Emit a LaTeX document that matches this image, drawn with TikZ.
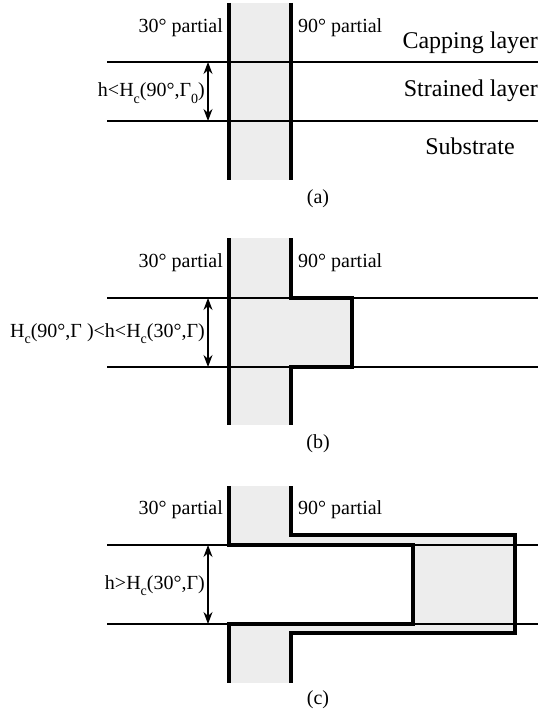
\documentclass[tikz,border=0pt]{standalone}
\usepackage{fontspec}
\setmainfont{Liberation Serif}
\usetikzlibrary{arrows.meta}
\newcommand\lowsub[1]{\raisebox{-0.32em}{\fontsize{14}{14}\selectfont #1}}
\begin{document}
\begin{tikzpicture}[x=1pt,y=-1pt,
  thickline/.style={line width=3.2pt},
  layerline/.style={line width=1.8pt},
  sf/.style={fill=black!7},
  lbl/.style={inner sep=0pt,font=\fontsize{20}{24}\selectfont},
  biglbl/.style={inner sep=0pt,font=\fontsize{24}{28}\selectfont},
  dimarrow/.style={line width=1.1pt,{Stealth[length=12pt,width=9pt]}-{Stealth[length=12pt,width=9pt]}}]
\useasboundingbox (0,0) rectangle (538,714);

% ---------------- panel (a)
\fill[sf] (229,3) rectangle (291,180);
\draw[layerline] (107,62) -- (538,62);
\draw[layerline] (107,121) -- (538,121);
\draw[thickline] (229,3) -- (229,180);
\draw[thickline] (291,3) -- (291,180);
\coordinate (a1) at (208,62);
\coordinate (a2) at (208,121);
\draw[dimarrow] (a1) -- (a2);
\node[lbl,anchor=base east] (a30) at (223,33) {30° partial};
\node[lbl,anchor=base west] (a90) at (298,33) {90° partial};
\node[biglbl,anchor=base east] (cap) at (538,49) {Capping layer};
\node[biglbl,anchor=base east] (str) at (538,97) {Strained layer};
\node[biglbl,anchor=base] (sub) at (470,155) {Substrate};
\node[lbl,anchor=base east] (ha) at (205,97) {h<H\lowsub{c}(90°,Γ\lowsub{0})};
\node[lbl,anchor=base] (capa) at (318,203) {(a)};

% ---------------- panel (b)
\fill[sf] (229,238) rectangle (291,425);
\fill[sf] (229,298) rectangle (352,367);
\draw[layerline] (107,298) -- (538,298);
\draw[layerline] (107,367) -- (538,367);
\draw[thickline] (229,238) -- (229,425);
\draw[thickline] (291,238) -- (291,298) -- (352,298) -- (352,367) -- (291,367) -- (291,425);
\coordinate (b1) at (208,298);
\coordinate (b2) at (208,367);
\draw[dimarrow] (b1) -- (b2);
\node[lbl,anchor=base east] (b30) at (223,267) {30° partial};
\node[lbl,anchor=base west] (b90) at (298,267) {90° partial};
\node[lbl,anchor=base east] (hb) at (205,337) {H\lowsub{c}(90°,Γ )<h<H\lowsub{c}(30°,Γ)};
\node[lbl,anchor=base] (capb) at (318,448) {(b)};

% ---------------- panel (c)
\fill[sf] (229,486) rectangle (291,683);
\fill[sf] (229,535) rectangle (515,633);
\fill[white] (229,545) rectangle (413,624);
\draw[layerline] (107,545) -- (538,545);
\draw[layerline] (107,624) -- (538,624);
\draw[thickline] (229,486) -- (229,545) -- (413,545) -- (413,624) -- (229,624) -- (229,683);
\draw[thickline] (291,486) -- (291,535) -- (515,535) -- (515,633) -- (291,633) -- (291,683);
\coordinate (c1) at (208,545);
\coordinate (c2) at (208,624);
\draw[dimarrow] (c1) -- (c2);
\node[lbl,anchor=base east] (c30) at (223,514) {30° partial};
\node[lbl,anchor=base west] (c90) at (298,514) {90° partial};
\node[lbl,anchor=base east] (hc) at (205,589) {h>H\lowsub{c}(30°,Γ)};
\node[lbl,anchor=base] (capc) at (318,704) {(c)};
\end{tikzpicture}
\end{document}
